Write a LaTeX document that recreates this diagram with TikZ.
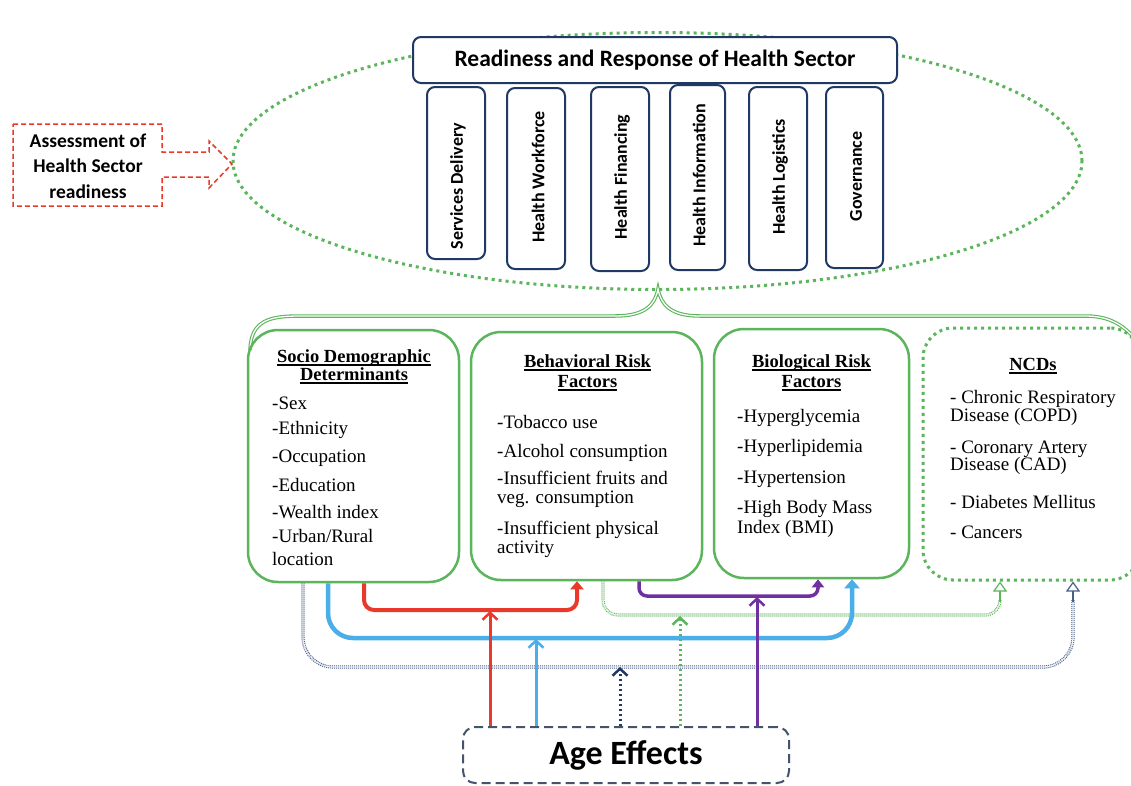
\documentclass[tikz,border=0pt]{standalone}
\usepackage{fontspec}
\setmainfont{Liberation Serif}
\newfontfamily\calib{Carlito}
\usetikzlibrary{shapes.geometric,arrows.meta}
\definecolor{grn}{HTML}{5BB55B}
\definecolor{myred}{HTML}{E8392A}
\definecolor{myblue}{HTML}{4AAEE8}
\definecolor{mypurple}{HTML}{7030A0}
\definecolor{navy}{HTML}{1F3864}
\definecolor{slate}{HTML}{44546A}
\definecolor{navytwo}{HTML}{4A5E8A}
\newcommand\myul[1]{\setbox0\hbox{#1}\rlap{\rule[-3.5pt]{\wd0}{1.3pt}}\box0}
\begin{document}
\begin{tikzpicture}[x=1pt,y=-1pt,
  navybox/.style={draw=navy,line width=2pt,rounded corners=8pt,fill=white,inner sep=0pt},
  pillartext/.style={rotate=90,font=\calib\bfseries\fontsize{18}{21}\selectfont},
  gbox/.style={draw=grn,line width=2.5pt,rounded corners=30pt,inner sep=0pt},
  ttl/.style={anchor=base,font=\bfseries\fontsize{18.5}{21}\selectfont,inner sep=0pt},
  item/.style={anchor=base west,font=\fontsize{19}{22}\selectfont,inner sep=0pt},
  thickred/.style={draw=myred,line width=4pt,rounded corners=10pt,-{Triangle[length=8pt,width=13pt]}},
  thickblue/.style={draw=myblue,line width=4.5pt,rounded corners=25pt,-{Triangle[length=9pt,width=15pt]}},
  thickpurple/.style={draw=mypurple,line width=3.5pt,rounded corners=8pt,-{Triangle[length=8pt,width=12pt]}},
  greendouble/.style={draw=grn,line width=1pt,double=white,double distance=1.2pt,densely dotted,rounded corners=15pt},
  navydouble/.style={draw=navytwo,line width=1pt,double=white,double distance=1.2pt,densely dotted,rounded corners=30pt},
  opentip/.style={line width=1.2pt,-{Triangle[open,length=10pt,width=14pt]}},
  thinarrow/.style={line width=3pt,-{Straight Barb[length=7pt,width=15pt,line width=2.5pt]}}
]
\useasboundingbox (0,0) rectangle (1131,785);
\clip (0,0) rectangle (1131,785);
\fill[white] (0,0) rectangle (1131,785);

% oval
\node[ellipse,draw=grn,line width=3pt,dash pattern=on 3pt off 4pt,minimum width=849pt,minimum height=257pt,inner sep=0pt] (oval) at (657.5,161) {};

% assessment arrow
\draw[myred,line width=1.5pt,dash pattern=on 5pt off 3pt]
  (13,124) -- (162,124) -- (162,152) -- (209,152) -- (209,141) -- (232,164)
  -- (209,188) -- (209,177) -- (162,177) -- (162,206) -- (13,206) -- cycle;
\node[align=center,font=\calib\bfseries\fontsize{19.5}{25.5}\selectfont] (assess) at (88,166) {Assessment of\\Health Sector\\readiness};

% title and pillars
\node[navybox,minimum width=484pt,minimum height=46pt] (title) at (655,60) {\calib\bfseries\fontsize{23.5}{27}\selectfont Readiness and Response of Health Sector};
\node[navybox,minimum width=58pt,minimum height=172pt] (p1) at (456,173) {};
\node[navybox,minimum width=58pt,minimum height=181pt] (p2) at (536,178.5) {};
\node[navybox,minimum width=58pt,minimum height=184pt] (p3) at (620,179) {};
\node[navybox,minimum width=55pt,minimum height=185pt] (p4) at (697.5,177.5) {};
\node[navybox,minimum width=58pt,minimum height=183pt] (p5) at (778,178.5) {};
\node[navybox,minimum width=57pt,minimum height=181pt] (p6) at (854.5,177.5) {};
\node[pillartext] (t1) at (458,186) {Services Delivery};
\node[pillartext] (t2) at (538,177) {Health Workforce};
\node[pillartext] (t3) at (622,177) {Health Financing};
\node[pillartext] (t4) at (699,175.5) {Health Information};
\node[pillartext] (t5) at (780,177) {Health Logistics};
\node[pillartext] (t6) at (856,176.5) {Governance};

% brace
\draw[draw=grn,line width=1.1pt,double=white,double distance=1.3pt]
  (250,350) .. controls (251,320) and (270,316) .. (300,316) -- (615,316)
  .. controls (645,316) and (655,305) .. (658,289)
  .. controls (661,305) and (671,316) .. (700,316) -- (1085,316)
  .. controls (1110,316) and (1125,325) .. (1140,345);

% boxes
\node[gbox,minimum width=211pt,minimum height=252pt] (socio) at (353.5,456) {};
\node[gbox,minimum width=231pt,minimum height=248pt] (behav) at (586.5,456) {};
\node[gbox,minimum width=195pt,minimum height=249pt] (bio) at (811.5,453.5) {};
\node[gbox,line width=3pt,dash pattern=on 3pt off 4pt,minimum width=217pt,minimum height=252pt] (ncd) at (1031.5,454) {};

% titles
\node[ttl] (st1) at (354,362) {\myul{Socio Demographic}};
\node[ttl] (st2) at (354,380) {\myul{Determinants}};
\node[ttl] (bt1) at (587.5,367) {\myul{Behavioral Risk}};
\node[ttl] (bt2) at (587.5,387) {\myul{Factors}};
\node[ttl] (gt1) at (811.5,367) {\myul{Biological Risk}};
\node[ttl] (gt2) at (811.5,387) {\myul{Factors}};
\node[ttl] (nt1) at (1033,370) {\myul{NCDs}};

% items
\foreach \t/\y [count=\i] in {{-Sex}/409,{-Ethnicity}/434,{-Occupation}/462,{-Education}/491,{-Wealth index}/518,{-Urban/Rural}/542,{location}/565}
  \node[item] (s\i) at (272,\y) {\t};
\foreach \t/\y [count=\i] in {{-Tobacco use}/428,{-Alcohol consumption}/457,{-Insufficient fruits and}/484,{veg. consumption}/503,{-Insufficient physical}/534,{activity}/553}
  \node[item] (b\i) at (497,\y) {\t};
\foreach \t/\y [count=\i] in {{-Hyperglycemia}/422,{-Hyperlipidemia}/452,{-Hypertension}/483,{-High Body Mass}/513,{Index (BMI)}/533}
  \node[item] (g\i) at (737,\y) {\t};
\foreach \t/\y [count=\i] in {{- Chronic Respiratory}/403,{Disease (COPD)}/421,{- Coronary Artery}/453,{Disease (CAD)}/470,{- Diabetes Mellitus}/508,{- Cancers}/538}
  \node[item] (n\i) at (950,\y) {\t};

% age box
\node[draw=slate,line width=2pt,dash pattern=on 9pt off 5pt,rounded corners=12pt,minimum width=326pt,minimum height=56pt,font=\calib\bfseries\fontsize{34}{38}\selectfont] (age) at (626,755) {Age Effects};

% double dotted connectors
\draw[navydouble] (socio.south -| 303,0) -- (303,667) -- (1073,667) -- (1073,600);
\draw[navytwo,opentip] (1073,602) -- (ncd.south -| 1073,0);
\draw[greendouble] (behav.south -| 603,0) -- (603,615) -- (1000,615) -- (1000,600);
\draw[grn,opentip] (1000,602) -- (ncd.south -| 1000,0);

% thick connectors
\draw[thickblue] (socio.south -| 328,0) -- (328,638) -- (852,638) -- (bio.south -| 852,0);
\draw[thickred] (socio.south -| 364,0) -- (364,610) -- (577,610) -- (behav.south -| 577,0);
\draw[thickpurple] (behav.south -| 639,0) -- (639,596) -- (818,596) -- (bio.south -| 818,0);

% thin arrows from age
\coordinate (jr) at (490,611);
\coordinate (jb) at (536,639);
\coordinate (jn) at (620,667);
\coordinate (jg) at (680,616);
\coordinate (jp) at (757,597);
\draw[thinarrow,myred] (age.north -| jr) -- (jr);
\draw[thinarrow,myblue] (age.north -| jb) -- (jb);
\draw[thinarrow,navy,dash pattern=on 2.5pt off 2.5pt] (age.north -| jn) -- (jn);
\draw[thinarrow,grn,dash pattern=on 2.5pt off 2.5pt] (age.north -| jg) -- (jg);
\draw[thinarrow,mypurple] (age.north -| jp) -- (jp);
\end{tikzpicture}
\end{document}
